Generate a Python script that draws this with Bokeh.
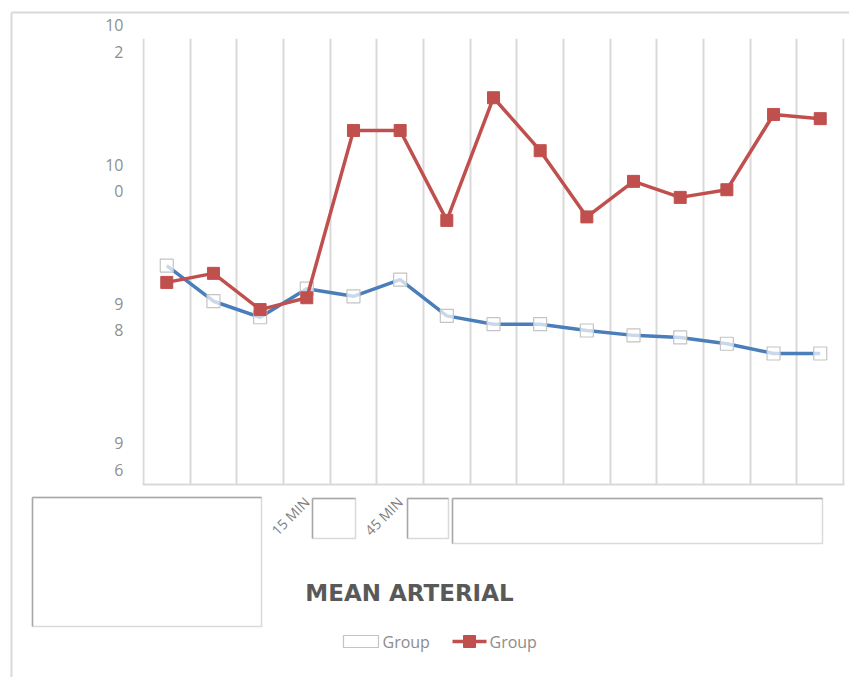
import math

from bokeh.plotting import figure
from bokeh.models import Range1d, FixedTicker
from bokeh.core.properties import value
from bokeh.embed import file_html
from bokeh.resources import INLINE

# --- data -------------------------------------------------------------
x_pos = list(range(1, 16))
x_tick_labels = ["", "", "", "15 MIN", "", "45 MIN", "", "", "", "", "", "", "", "", ""]

group_a = [98.74, 98.23, 98.00, 98.41, 98.30, 98.54, 98.02, 97.90,
           97.90, 97.81, 97.74, 97.71, 97.62, 97.48, 97.48]
group_b = [98.50, 98.63, 98.11, 98.28, 100.68, 100.68, 99.39, 101.15,
           100.39, 99.44, 99.95, 99.72, 99.83, 100.91, 100.85]

y_ticks = [96, 98, 100, 102]
y_tick_labels = ["9\n6", "9\n8", "10\n0", "10\n2"]

series_names = ["Group", "Group"]
chart_title = "MEAN ARTERIAL"

# --- layout constants (canvas pixels) ---------------------------------
W, H = 849, 677
FRAME_L, FRAME_T, FRAME_R, FRAME_B = 142, 38, 844, 484
X0, X1 = 0.48, 15.52
Y0, Y1 = 95.6, 102.0

BLUE = "#4a7ebb"
RED = "#c0504d"
GRID = "#d9d9d9"
TEXT_GREY = "#8c8c8c"


def to_dx(px):
    """canvas x pixel -> data x (for decorations drawn outside the frame)"""
    return X0 + (px - FRAME_L) * (X1 - X0) / (FRAME_R - FRAME_L)


def to_dy(py):
    """canvas y pixel -> data y (for decorations drawn outside the frame)"""
    return Y0 + (FRAME_B - py) * (Y1 - Y0) / (FRAME_B - FRAME_T)


p = figure(width=W, height=H, output_backend="svg", toolbar_location=None,
           x_range=Range1d(X0, X1), y_range=Range1d(Y0, Y1),
           min_border_left=FRAME_L, min_border_right=W - FRAME_R,
           min_border_top=FRAME_T, min_border_bottom=H - FRAME_B)
p.outline_line_color = None
p.background_fill_color = "white"
p.border_fill_color = "white"

# vertical gridlines on category boundaries
p.xgrid.ticker = FixedTicker(ticks=[i + 0.5 for i in range(0, 16)])
p.xgrid.grid_line_color = GRID
p.xgrid.grid_line_width = 2
p.ygrid.grid_line_color = None

# y axis
p.yaxis.ticker = FixedTicker(ticks=y_ticks)
p.yaxis.major_label_overrides = {t: lab for t, lab in zip(y_ticks, y_tick_labels)}
p.yaxis.axis_line_color = None
p.yaxis.major_tick_line_color = None
p.yaxis.minor_tick_line_color = None
p.yaxis.major_tick_out = 0
p.yaxis.major_label_standoff = 19
p.yaxis.major_label_text_font = "Open Sans"
p.yaxis.major_label_text_font_size = "16px"
p.yaxis.major_label_text_color = "#8f8f8f"

# x axis
p.xaxis.ticker = FixedTicker(ticks=x_pos)
p.xaxis.major_label_overrides = {x: lab for x, lab in zip(x_pos, x_tick_labels)}
p.xaxis.major_label_orientation = math.pi / 4
p.xaxis.axis_line_color = GRID
p.xaxis.axis_line_width = 2
p.xaxis.major_tick_line_color = None
p.xaxis.minor_tick_line_color = None
p.xaxis.major_tick_out = 0
p.xaxis.major_label_standoff = 15
p.xaxis.major_label_text_font = "Open Sans"
p.xaxis.major_label_text_font_size = "14px"
p.xaxis.major_label_text_color = "#7f7f7f"

# series
p.line(x_pos, group_a, line_color=BLUE, line_width=3.5)
p.scatter(x_pos, group_a, marker="square", size=13,
          fill_color="white", fill_alpha=0.7,
          line_color="#c4c4c4", line_width=1.2)
p.line(x_pos, group_b, line_color=RED, line_width=3.5)
p.scatter(x_pos, group_b, marker="square", size=12,
          fill_color=RED, line_color=RED)

# ---- decorations below the plot area (overlay level, not clipped) ----
# frames of the category labels that are shown as pictures
image_boxes = [(32, 261, 497, 626), (312, 355, 498, 538),
               (407, 448, 498, 538), (452, 822, 498, 543)]
p.quad(left=[to_dx(b[0]) for b in image_boxes],
       right=[to_dx(b[1]) for b in image_boxes],
       top=[to_dy(b[2]) for b in image_boxes],
       bottom=[to_dy(b[3]) for b in image_boxes],
       fill_color="white", line_color="#dadada", line_width=1.5, level="overlay")
# darker top and left edges of those frames
p.segment(x0=[to_dx(b[0]) for b in image_boxes] * 2,
          y0=[to_dy(b[2]) for b in image_boxes] * 2,
          x1=[to_dx(b[1]) for b in image_boxes] + [to_dx(b[0]) for b in image_boxes],
          y1=[to_dy(b[2]) for b in image_boxes] + [to_dy(b[3]) for b in image_boxes],
          line_color="#a8a8a8", line_width=1.5, level="overlay")

# chart title under the category axis
p.text(x=[to_dx(409)], y=[to_dy(592)], text=[chart_title],
       text_align="center", text_baseline="middle",
       text_font=value("DejaVu Sans"), text_font_size="23px",
       text_font_style="bold", text_color="#595959", level="overlay")

# legend row
LEG_Y = to_dy(641)
p.quad(left=[to_dx(343)], right=[to_dx(378)], top=[to_dy(635)], bottom=[to_dy(647)],
       fill_color="white", line_color="#c4c4c4", line_width=1.2, level="overlay")
p.segment(x0=[to_dx(452)], y0=[LEG_Y], x1=[to_dx(486)], y1=[LEG_Y],
          line_color=RED, line_width=3.5, level="overlay")
p.quad(left=[to_dx(463)], right=[to_dx(475)], top=[to_dy(635)], bottom=[to_dy(647)],
       fill_color=RED, line_color=RED, line_width=1, level="overlay")
p.text(x=[to_dx(382), to_dx(489)], y=[LEG_Y, LEG_Y], text=series_names,
       text_align="left", text_baseline="middle",
       text_font=value("Open Sans"), text_font_size="16px",
       text_color=TEXT_GREY, level="overlay")

# outer chart border (top and left edges)
p.segment(x0=[to_dx(11), to_dx(11)], y0=[to_dy(12), to_dy(12)],
          x1=[to_dx(W + 10), to_dx(11)], y1=[to_dy(12), to_dy(H + 10)],
          line_color=GRID, line_width=2, level="overlay")

open("out.html", "w").write(file_html(p, INLINE))
